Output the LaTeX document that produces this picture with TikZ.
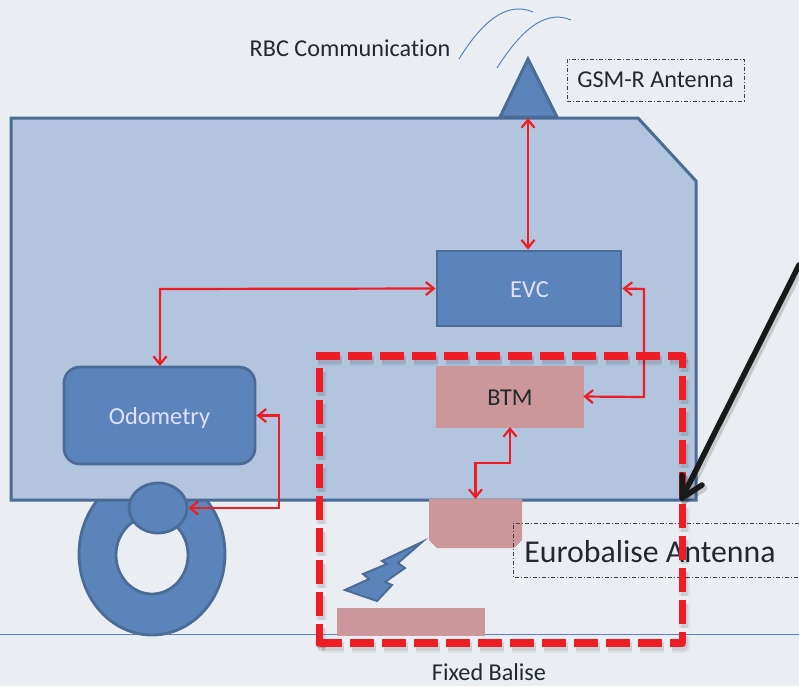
\documentclass[tikz,border=0pt]{standalone}
\usepackage{fontspec}
\setmainfont[Ligatures=NoCommon]{Carlito}
\usetikzlibrary{arrows.meta,calc,shapes.geometric}
\definecolor{bgc}{HTML}{EAEEF2}
\definecolor{vehf}{HTML}{B3C5DE}
\definecolor{blf}{HTML}{5B85BA}
\definecolor{bls}{HTML}{4A6C97}
\definecolor{pinkf}{HTML}{CB979B}
\definecolor{redc}{HTML}{EE1C25}
\definecolor{txt}{HTML}{23282E}
\tikzset{
  x=1pt,y=-1pt,
  bluebox/.style={draw=bls,fill=blf,line width=2.8pt,inner sep=0pt},
  whitetext/.style={text=white!88!blue,font=\fontsize{24.4}{28}\selectfont,inner sep=0pt},
  pinkbox/.style={fill=pinkf,draw=pinkf,line width=0.5pt,inner sep=0pt},
  lbl/.style={text=txt,font=\fontsize{24.2}{28}\selectfont,inner sep=0pt},
  conn/.style={draw=redc,line width=2.2pt,{Straight Barb[length=8pt,width=13pt,line width=2.2pt]}-{Straight Barb[length=8pt,width=13pt,line width=2.2pt]}},
  dashdot/.style={draw=black!75,line width=0.8pt,dash pattern=on 4pt off 2pt on 1pt off 2pt},
  thinblue/.style={draw=blf,line width=1pt},
}
\newcommand{\framepaths}[2]{%
  \draw[draw=#1,line width=#2,dash pattern=on 24pt off 8pt,dash phase=4pt] (319.5,644) -- (319.5,367);
  \draw[draw=#1,line width=#2,dash pattern=on 24pt off 8pt] (316,356) -- (682.5,356);
  \draw[draw=#1,line width=#2,line join=round,dash pattern=on 24pt off 8pt,dash phase=12pt] (682.5,356) -- (682.5,643) -- (319.5,643);
  \fill[#1,rounded corners=1.5pt] ($(682.5,356)+(-3.6,-3.6)$) rectangle ($(682.5,356)+(3.6,3.6)$);
  \fill[#1,rounded corners=1.5pt] ($(319.5,643)+(-3.6,-3.6)$) rectangle ($(319.5,643)+(3.6,3.6)$);
}
\begin{document}
\begin{tikzpicture}
\useasboundingbox (0,0) rectangle (799,686);
\fill[bgc] (0,0) rectangle (799,686);
% ground
\coordinate (gl) at (0,634); \coordinate (gr) at (799,634);
\draw[thinblue] (gl) -- (gr);
% wheel
\path[draw=bls,fill=blf,line width=2.8pt,even odd rule] (152,554) ellipse [x radius=73,y radius=81] (152,555) ellipse [x radius=36,y radius=39];
% vehicle
\draw[draw=bls,fill=vehf,line width=3pt,line join=miter] (11,118) -- (638,118) -- (696,181) -- (696,500) -- (11,500) -- cycle;
% antenna
\coordinate (apex) at (528,58);
\draw[draw=bls,fill=blf,line width=3pt,line join=miter] (528,59) -- (557,117) -- (500,117) -- cycle;
% waves
\draw[thinblue] (459,59) .. controls (480,25) and (505,0) .. (533,12);
\draw[thinblue] (497,68) .. controls (518,35) and (543,8) .. (571,20);
% nodes
\node[bluebox,minimum width=184pt,minimum height=75pt] (evc) at (529,288.5) {};
\node[whitetext] at (529.5,289.5) {EVC};
\node[bluebox,rounded corners=16pt,minimum width=191pt,minimum height=97pt] (odo) at (159.5,415.5) {};
\node[whitetext] at (159.5,418) {Odometry};
\node[draw=bls,fill=blf,line width=2.8pt,ellipse,minimum width=58pt,minimum height=50pt,inner sep=0pt] (sens) at (158,508) {};
\node[pinkbox,minimum width=147pt,minimum height=61pt] (btm) at (509.5,396.5) {};
\node[lbl] at (510,398) {BTM};
\path[fill=pinkf] (429,499) -- (522,499) -- (522,540) -- (514,548) -- (437,548) -- (429,540) -- cycle;
\coordinate (ant) at (475.5,499);
\node[pinkbox,minimum width=147pt,minimum height=27pt] (bal) at (410.5,621.5) {};
% lightning
\draw[draw=bls,fill=blf,line width=2pt,line join=miter] (422,542) -- (382,561) -- (387,564) -- (363,574) -- (369,579) -- (345,590) -- (377,601) -- (392,585) -- (385,582) -- (405,568) -- (398,563) -- cycle;
% labels
\node[lbl] at (350,48) {RBC Communication};
\node[lbl,dashdot,text=txt,minimum width=177pt,minimum height=42pt] (gsm) at (655.5,80) {GSM-R Antenna};
\node[lbl] at (489,672) {Fixed Balise};
% eurobalise label
\coordinate (ea) at (799,523); \coordinate (eb) at (513,523); \coordinate (ec) at (513,577); \coordinate (ed) at (799,577);
\draw[dashdot] (ea) -- (eb) -- (ec) -- (ed);
\node[text=txt,font=\fontsize{31.8}{36}\selectfont,inner sep=0pt] at (650,552) {Eurobalise Antenna};
% connectors
\draw[conn] (apex |- 0,118) -- (apex |- evc.north);
\draw[conn] (evc.west) -- (160,289) -- (160,366);
\draw[conn] (evc.east) -- (644,289) -- (644,397) -- (btm.east);
\draw[conn] (odo.east) -- (279,415.5) -- (279,508) -- (sens.east);
\draw[conn] (510,427) -- (510,463) -- (475.5,463) -- (ant);
% frame with soft shadow
\begin{scope}[shift={(2,4)},opacity=.05]
  \framepaths{black}{11pt}
\end{scope}
\begin{scope}[shift={(2,4)},opacity=.08]
  \framepaths{black}{7.5pt}
\end{scope}
\framepaths{redc}{7.4pt}
% black arrow
\begin{scope}[shift={(2,3)},opacity=.15]
  \draw[draw=black,line width=7pt,line cap=round,line join=round] (799,265) -- (682,498);
  \draw[draw=black,line width=7pt,line cap=round,line join=round] (682,475) -- (682,498) -- (702,485);
\end{scope}
\draw[draw=black!90,line width=5.5pt,line cap=round] (799,265) -- (682,498);
\draw[draw=black!90,line width=5.5pt,line cap=round,line join=round] (682,475) -- (682,498) -- (702,485);
\end{tikzpicture}
\end{document}
